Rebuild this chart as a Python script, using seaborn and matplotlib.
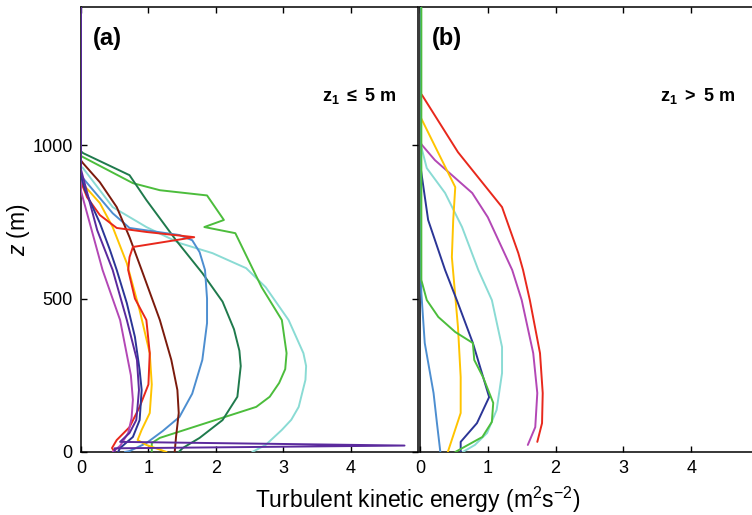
import pandas as pd
import seaborn as sns
import matplotlib.pyplot as plt

# Panel (a): z1 <= 5 m profiles (TKE in m2 s-2, height z in m)
a_dkgreen_x = [0, 0, 0.03, 0.72, 0.97, 1.41, 1.8, 2.1, 2.27, 2.35, 2.37, 2.32, 2.1, 1.76, 1.51, 1.45]
a_dkgreen_z = [1450, 980, 974, 902, 821, 690, 583, 490, 400, 330, 280, 180, 104, 46, 13, 0]
a_green_x = [0, 0, 0.03, 0.77, 1.17, 1.87, 2.12, 1.83, 2.29, 2.68, 2.98, 3.05, 3.03, 2.94, 2.8, 2.6, 1.17, 1.05, 1.05]
a_green_z = [1450, 965, 961, 876, 853, 836, 756, 733, 713, 537, 430, 322, 270, 225, 180, 147, 46, 29, 0]
a_cyan_x = [0, 0, 0.03, 0.47, 0.97, 1.46, 1.95, 2.45, 2.74, 3.08, 3.3, 3.34, 3.33, 3.23, 3.12, 2.98, 2.74, 2.54]
a_cyan_z = [1450, 930, 925, 798, 733, 681, 648, 599, 537, 430, 322, 280, 235, 147, 105, 72, 23, 0]
a_blue_x = [0, 0, 0.47, 0.72, 1.46, 1.65, 1.76, 1.84, 1.87, 1.87, 1.8, 1.65, 1.46, 1.21, 0.97, 0.72, 0.65]
a_blue_z = [1450, 900, 778, 730, 707, 690, 651, 593, 500, 420, 300, 190, 114, 68, 29, 3, 0]
a_brown_x = [0, 0, 0.03, 0.28, 0.53, 0.72, 0.9, 1.17, 1.34, 1.43, 1.45, 1.41, 1.39]
a_brown_z = [1450, 950, 941, 879, 798, 700, 593, 430, 300, 202, 127, 49, 0]
a_yellow_x = [0, 0, 0.28, 0.47, 0.68, 0.87, 1.02, 1.05, 1.02, 0.9, 0.84, 0.97, 1.27]
a_yellow_z = [1450, 880, 811, 733, 615, 462, 322, 220, 127, 72, 39, 23, 0]
a_red_x = [0, 0, 0.09, 0.28, 0.53, 0.97, 1.68, 0.77, 0.72, 0.7, 0.8, 0.97, 1.02, 1.0, 0.87, 0.72, 0.53, 0.46, 0.5]
a_red_z = [1450, 880, 830, 772, 730, 717, 700, 668, 635, 593, 500, 430, 322, 220, 147, 81, 39, 13, 0]
a_magenta_x = [0, 0, 0.32, 0.58, 0.74, 0.77, 0.75, 0.7, 0.58, 0.47]
a_magenta_z = [1450, 850, 593, 430, 250, 170, 110, 62, 20, 0]
a_navy_x = [0, 0, 0.06, 0.28, 0.43, 0.53, 0.68, 0.8, 0.87, 0.9, 0.87, 0.77, 0.58, 0.55]
a_navy_z = [1450, 900, 853, 746, 658, 593, 485, 375, 267, 202, 104, 49, 13, 0]
a_purple_x = [0, 0, 0.24, 0.47, 0.68, 0.83, 0.86, 0.84, 0.82, 0.72, 0.58, 4.8, 0.5, 0.5]
a_purple_z = [1450, 920, 723, 593, 430, 300, 202, 150, 104, 62, 33, 21, 12, 0]

# Panel (b): z1 > 5 m profiles
b_red_x = [0, 0, 0.03, 0.56, 1.21, 1.45, 1.52, 1.62, 1.77, 1.81, 1.8, 1.73]
b_red_z = [1450, 1170, 1163, 977, 798, 648, 593, 495, 322, 192, 94, 33]
b_magenta_x = [0, 0, 0.03, 0.22, 0.77, 1.0, 1.36, 1.5, 1.67, 1.73, 1.7, 1.59]
b_magenta_z = [1450, 1010, 1000, 951, 844, 765, 593, 495, 322, 192, 81, 23]
b_cyan_x = [0, 0, 0.1, 0.37, 0.62, 0.86, 1.06, 1.21, 1.21, 1.13, 0.99, 0.81, 0.63]
b_cyan_z = [1450, 1010, 925, 844, 733, 593, 495, 342, 257, 137, 62, 23, 0]
b_yellow_x = [0, 0, 0.52, 0.49, 0.47, 0.56, 0.6, 0.6, 0.41]
b_yellow_z = [1450, 1095, 863, 756, 635, 407, 244, 127, 0]
b_navy_x = [0, 0, 0.12, 0.37, 0.56, 0.78, 1.02, 0.84, 0.6, 0.6]
b_navy_z = [1450, 941, 756, 593, 485, 355, 179, 94, 33, 0]
b_blue_x = [0.01, 0.01, 0.02, 0.07, 0.2, 0.25, 0.3]
b_blue_z = [1450, 620, 518, 355, 192, 94, 0]
b_green_x = [0.02, 0.02, 0.1, 0.27, 0.52, 0.78, 0.8, 0.93, 1.08, 1.06, 0.92, 0.52]
b_green_z = [1450, 560, 495, 440, 391, 355, 300, 244, 160, 98, 49, 0]

colors = {
    'dkgreen': '#1f7a4c', 'green': '#4cbd3c', 'cyan': '#8adbd4', 'blue': '#4d8ed0',
    'brown': '#7b1a0c', 'yellow': '#ffc400', 'red': '#e8281c', 'magenta': '#b347b5',
    'navy': '#2b3596', 'purple': '#5b2a9d',
}

panel_a = [('cyan', a_cyan_x, a_cyan_z), ('green', a_green_x, a_green_z),
           ('dkgreen', a_dkgreen_x, a_dkgreen_z), ('blue', a_blue_x, a_blue_z),
           ('brown', a_brown_x, a_brown_z), ('yellow', a_yellow_x, a_yellow_z),
           ('red', a_red_x, a_red_z), ('magenta', a_magenta_x, a_magenta_z),
           ('navy', a_navy_x, a_navy_z), ('purple', a_purple_x, a_purple_z)]
panel_b = [('red', b_red_x, b_red_z), ('magenta', b_magenta_x, b_magenta_z),
           ('cyan', b_cyan_x, b_cyan_z), ('yellow', b_yellow_x, b_yellow_z),
           ('navy', b_navy_x, b_navy_z), ('blue', b_blue_x, b_blue_z),
           ('green', b_green_x, b_green_z)]

sns.set_theme(style="ticks")
plt.rcParams['font.family'] = ['Liberation Sans', 'DejaVu Sans']
plt.rcParams['mathtext.fontset'] = 'custom'
plt.rcParams['mathtext.rm'] = 'Liberation Sans'
plt.rcParams['mathtext.it'] = 'Liberation Sans:italic'
plt.rcParams['mathtext.bf'] = 'Liberation Sans:bold'
plt.rcParams['axes.linewidth'] = 1.1
plt.rcParams['text.color'] = 'black'
plt.rcParams['axes.labelcolor'] = 'black'

fig = plt.figure(figsize=(7.52, 5.15), dpi=100)
ax_a = fig.add_axes([81 / 752, 63 / 515, 337 / 752, 445 / 515])
ax_b = fig.add_axes([420 / 752, 63 / 515, 339 / 752, 445 / 515])

for ax, curves in [(ax_a, panel_a), (ax_b, panel_b)]:
    for name, xs, zs in curves:
        df = pd.DataFrame({'tke': xs, 'z': zs})
        sns.lineplot(data=df, x='tke', y='z', sort=False, estimator=None,
                     color=colors[name], lw=1.4, ax=ax, zorder=3)
    ax.set_xlim(0, 5)
    ax.set_ylim(0, 1450)
    ax.set_xticks([0, 1, 2, 3, 4])
    ax.set_xlabel('')
    ax.set_ylabel('')
    for s in ax.spines.values():
        s.set_color('black')

ax_a.set_yticks([0, 500, 1000])
ax_a.tick_params(direction='in', top=True, right=True, length=4, width=1,
                 labelsize=13, pad=6, colors='black')
ax_b.set_yticks([0, 500, 1000])
ax_b.tick_params(direction='in', top=True, right=False, left=False, labelleft=False,
                 length=4, width=1, labelsize=13, pad=6, colors='black')
ax_b.spines['right'].set_visible(False)

ax_a.text(0.035, 0.955, '(a)', transform=ax_a.transAxes, fontsize=17,
          fontweight='bold', va='top', ha='left')
ax_b.text(0.035, 0.955, '(b)', transform=ax_b.transAxes, fontsize=17,
          fontweight='bold', va='top', ha='left')
ax_a.text(0.935, 0.80, r'$\mathbf{z_1}$ $\mathbf{\leq}$ $\mathbf{5\ m}$',
          transform=ax_a.transAxes, fontsize=13, ha='right', va='center')
ax_b.text(0.93, 0.80, r'$\mathbf{z_1}$ $\mathbf{>}$ $\mathbf{5\ m}$',
          transform=ax_b.transAxes, fontsize=13, ha='right', va='center')

ax_a.set_ylabel(r'$\mathit{z}$ (m)', fontsize=16.5, labelpad=0)
fig.text(0.555, 0.014, r'Turbulent kinetic energy (m$^2$s$^{-2}$)',
         fontsize=16.5, ha='center', va='baseline')

fig.savefig('out.png', dpi=100)
